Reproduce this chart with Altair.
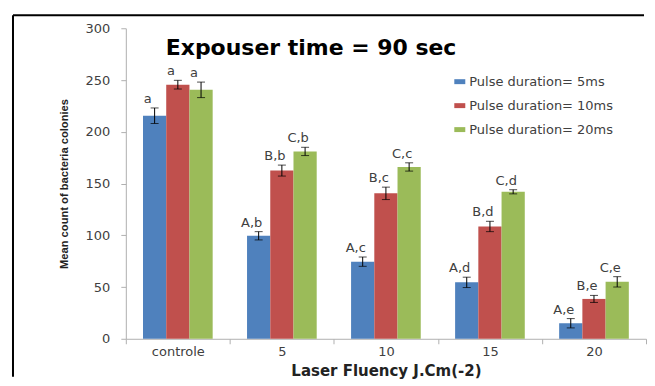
import altair as alt
import pandas as pd

categories = ["controle", "5", "10", "15", "20"]
series = ["Pulse duration= 5ms", "Pulse duration= 10ms", "Pulse duration= 20ms"]
colors = ["#4F81BD", "#C0504D", "#9BBB59"]

v5 = [215.5, 99.5, 74.5, 54.5, 15]
v10 = [245.5, 162.5, 140.5, 108.5, 38.5]
v20 = [240.5, 181, 166, 142, 55]

e5 = [7.5, 4, 4.5, 5, 4.5]
e10 = [4.2, 5.3, 6, 5, 3.4]
e20 = [7.5, 4, 4, 2, 5]

lab5 = ["a", "A,b", "A,c", "A,d", "A,e"]
lab10 = ["a", "B,b", "B,c", "B,d", "B,e"]
lab20 = ["a", "C,b", "C,c", "C,d", "C,e"]

chart_title = "Expouser time = 90 sec"

rows = []
for s, vals, errs, labs in zip(series, [v5, v10, v20], [e5, e10, e20], [lab5, lab10, lab20]):
    for c, v, e, l in zip(categories, vals, errs, labs):
        rows.append({"cat": c, "series": s, "value": v, "lo": v - e, "hi": v + e, "label": l})
df = pd.DataFrame(rows)

FONT = "DejaVu Sans"

x = alt.X("cat:N", sort=categories, scale=alt.Scale(paddingInner=0, paddingOuter=0),
          axis=alt.Axis(title="Laser Fluency J.Cm(-2)", labelAngle=0, tickBand="extent",
                        tickSize=5, labelPadding=2, titlePadding=5,
                        labelFont=FONT, labelFontSize=13, labelColor="#404040",
                        titleFont=FONT, titleFontSize=15, titleFontWeight="bold", titleColor="#222222",
                        domainColor="#B0B0B0", tickColor="#B0B0B0"))
xo = alt.XOffset("series:N", sort=series, scale=alt.Scale(paddingOuter=0.74, paddingInner=0))

y_axis = alt.Axis(title="Mean count of bacteria colonies", values=[0, 50, 100, 150, 200, 250, 300],
                  grid=False, tickSize=5, labelPadding=11, titlePadding=16,
                  labelFont=FONT, labelFontSize=13, labelColor="#404040",
                  titleFont="Liberation Sans", titleFontSize=11.2, titleFontWeight="bold",
                  titleColor="#222222",
                  domainColor="#B0B0B0", tickColor="#B0B0B0")
yscale = alt.Scale(domain=[0, 300], nice=False)

base = alt.Chart(df)

bars = base.mark_bar().encode(
    x=x, xOffset=xo,
    y=alt.Y("value:Q", scale=yscale, axis=y_axis),
    color=alt.Color("series:N", sort=series, scale=alt.Scale(domain=series, range=colors),
                    legend=alt.Legend(title=None, orient="none", legendX=328, legendY=47,
                                      symbolType="M-1,-0.45L1,-0.45L1,0.45L-1,0.45Z",
                                      symbolSize=121, symbolStrokeWidth=0,
                                      labelFont=FONT, labelFontSize=13, labelColor="#404040",
                                      rowPadding=10, labelOffset=3)),
)

err = base.mark_rule(color="black", strokeWidth=1).encode(
    x=x, xOffset=xo, y=alt.Y("lo:Q", scale=yscale), y2="hi:Q")
cap_hi = base.mark_tick(color="black", thickness=1, size=8).encode(
    x=x, xOffset=xo, y=alt.Y("hi:Q", scale=yscale))
cap_lo = base.mark_tick(color="black", thickness=1, size=8).encode(
    x=x, xOffset=xo, y=alt.Y("lo:Q", scale=yscale))

text = base.mark_text(font=FONT, fontSize=13, color="#404040", baseline="alphabetic", dy=-5, dx=-7).encode(
    x=x, xOffset=xo, y=alt.Y("hi:Q", scale=yscale), text="label:N")

one = alt.Data(values=[{"t": chart_title}])
title_mark = alt.Chart(one).mark_text(font=FONT, fontSize=22, fontWeight="bold", color="black",
                                      align="left", baseline="alphabetic").encode(
    x=alt.value(40), y=alt.value(27), text="t:N")

top_line = alt.Chart(one).mark_rule(color="black", strokeWidth=2).encode(
    x=alt.value(-113), x2=alt.value(519), y=alt.value(-13))
left_line = alt.Chart(one).mark_rule(color="black", strokeWidth=2).encode(
    x=alt.value(-113), y=alt.value(-13), y2=alt.value(349))

chart = alt.layer(bars, err, cap_hi, cap_lo, text, title_mark, top_line, left_line).properties(
    width=521, height=311,
    padding={"left": 4, "top": 6, "right": 0, "bottom": 0},
).configure(background="white", view=alt.ViewConfig(stroke="transparent", strokeWidth=0))

chart.save("out.html", embed_options={"renderer": "svg", "actions": False})
